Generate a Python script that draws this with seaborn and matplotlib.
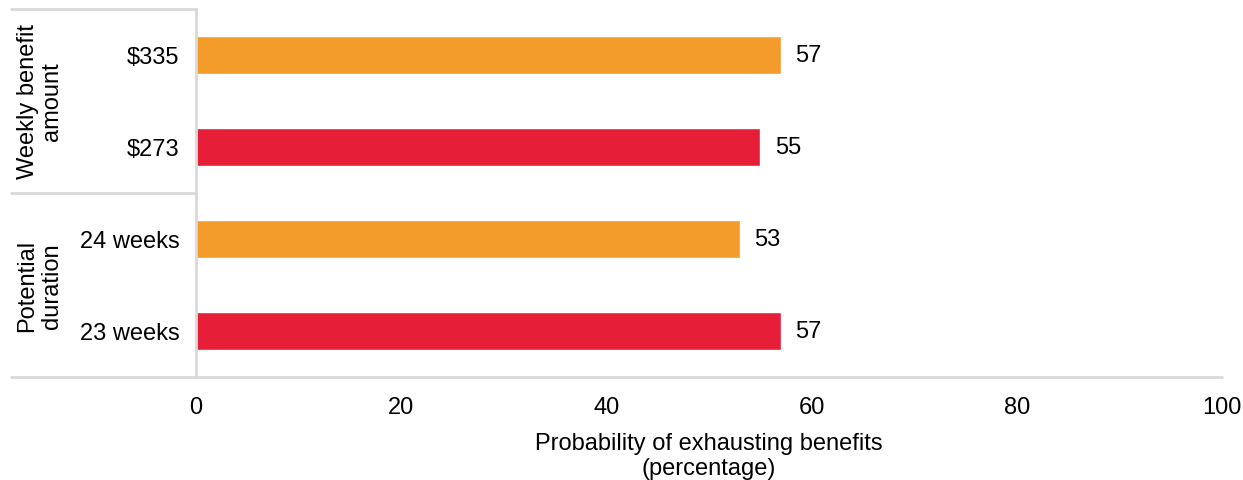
import matplotlib
matplotlib.use("Agg")
import matplotlib.pyplot as plt
import seaborn as sns
import pandas as pd

# Data
categories = ["$335", "$273", "24 weeks", "23 weeks"]
probabilities = [57, 55, 53, 57]
bar_colors = ["#F39C2B", "#E61E37", "#F39C2B", "#E61E37"]
groups = ["Weekly benefit\namount", "Potential\nduration"]
x_ticks = [0, 20, 40, 60, 80, 100]

sns.set_theme(style="white")
plt.rcParams["font.family"] = ["Liberation Sans", "DejaVu Sans"]
FS = 17
LINE = "#D9D9D9"

df = pd.DataFrame({"category": categories, "value": probabilities})

fig = plt.figure(figsize=(12.43, 4.81), dpi=100)
ax = fig.add_axes([196 / 1243, 1 - 378 / 481, 1026 / 1243, 368 / 481])

sns.barplot(data=df, x="value", y="category", hue="category",
            palette=bar_colors, legend=False, width=0.42, ax=ax,
            saturation=1)

ax.set_xlim(0, 100)
ax.set_ylim(3.5, -0.5)
ax.set_xticks(x_ticks)
ax.set_xticklabels([str(t) for t in x_ticks], fontsize=FS, color="black")
ax.tick_params(axis="x", length=0, pad=14)
ax.tick_params(axis="y", length=0, pad=12, labelsize=FS, labelcolor="black")
ax.set_ylabel("")
ax.set_xlabel("Probability of exhausting benefits\n(percentage)",
              fontsize=FS, color="black", labelpad=10, linespacing=1.15)

for s in ["top", "right"]:
    ax.spines[s].set_visible(False)
ax.spines["left"].set_color(LINE)
ax.spines["left"].set_linewidth(2)
ax.spines["bottom"].set_visible(False)

# Value labels at bar ends
for i, v in enumerate(probabilities):
    ax.text(v + 1.4, i, f"{v}", va="center", ha="left", fontsize=FS,
            color="black")

# Group frame lines extending to the left of the axis
x_left = (11 - 196) / 1026
for yv in [-0.5, 1.5]:
    ax.plot([x_left, 0], [yv, yv], color=LINE, lw=2,
            transform=ax.get_yaxis_transform(), clip_on=False)
ax.plot([x_left, 1], [3.5, 3.5], color=LINE, lw=2,
        transform=ax.get_yaxis_transform(), clip_on=False)

# Group labels
x_grp = (40 - 196) / 1026
for label, yc in zip(groups, [0.5, 2.5]):
    ax.text(x_grp, yc, label, rotation=90, ha="center", va="center",
            fontsize=FS, color="black", linespacing=1.17,
            transform=ax.get_yaxis_transform(), clip_on=False)

fig.savefig("out.png", dpi=100)
